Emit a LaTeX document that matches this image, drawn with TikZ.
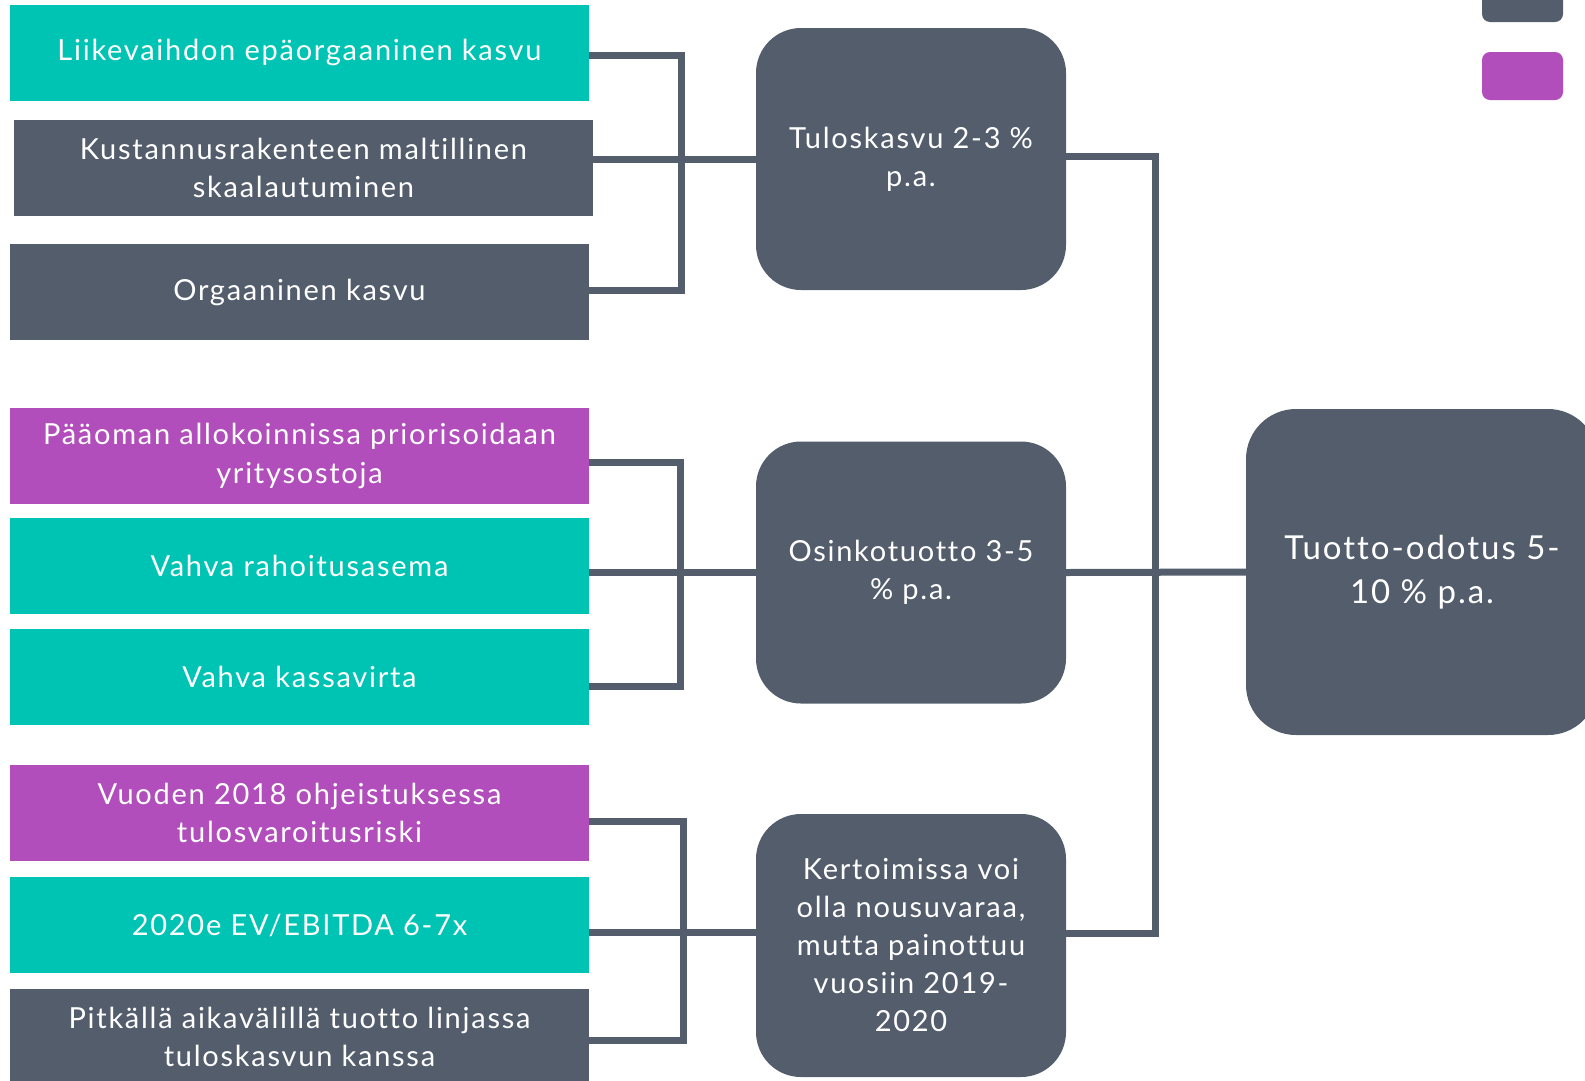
\documentclass[tikz,border=0pt]{standalone}
\usepackage{fontspec}
\setmainfont{Lato}[LetterSpace=6, Ligatures=NoCommon]
\usetikzlibrary{positioning}

\definecolor{tealBox}{HTML}{00C4B3}
\definecolor{slateBox}{HTML}{535D6C}
\definecolor{plumBox}{HTML}{B14EBB}

\begin{document}
\begin{tikzpicture}[x=1pt,y=-1pt]
		\useasboundingbox (0,0) rectangle (1585,1080);
		\clip (0,0) rectangle (1585,1080);
		\begin{scope}
            [
                styleDriver/.style={
					minimum width = 579pt, minimum height = 96pt,
					inner sep = 0pt, align = center, text = white,
					font = \fontsize{29}{38.5}\selectfont
					},
				styleTeal/.style={styleDriver, fill = tealBox},
				styleSlate/.style={styleDriver, fill = slateBox},
				stylePlum/.style={styleDriver, fill = plumBox},
				styleGoal/.style={
					minimum width = 310pt, minimum height = 262pt,
					inner sep = 0pt, align = center, text = white,
					fill = slateBox, rounded corners = 45pt,
					font = \fontsize{29}{38}\selectfont
					},
				styleTotal/.style={
					minimum width = 352pt, minimum height = 326pt,
					inner sep = 0pt, align = center, text = white,
					fill = slateBox, rounded corners = 50pt,
					font = \fontsize{33}{44.5}\selectfont
					},
				styleKey/.style={minimum width = 81pt, minimum height = 48pt,
					inner sep = 0pt, rounded corners = 8pt},
            ]
			% vasen sarake
			\node(liike)[styleTeal] at (299.5,52.75) {Liikevaihdon epäorgaaninen kasvu};
			\node(kust)[styleSlate] at (303.5,168) {Kustannusrakenteen maltillinen\\skaalautuminen};
			\node(org)[styleSlate] at (299.5,292) {Orgaaninen kasvu};

			\node(paaoma)[stylePlum] at (299.5,456) {Pääoman allokoinnissa priorisoidaan\\yritysostoja};
			\node(rahoitus)[styleTeal] at (299.5,566) {Vahva rahoitusasema};
			\node(kassa)[styleTeal] at (299.5,677) {Vahva kassavirta};

			\node(vuoden)[stylePlum] at (299.5,813) {Vuoden 2018 ohjeistuksessa\\tulosvaroitusriski};
			\node(ebitda)[styleTeal] at (299.5,925) {2020e EV/EBITDA 6-7x};
			\node(pitka)[styleSlate] at (299.5,1037) {Pitkällä aikavälillä tuotto linjassa\\tuloskasvun kanssa};

			% keskimmäinen sarake
			\node(tulos)[styleGoal] at (911,159) {Tuloskasvu 2-3 \%\\p.a.};
			\node(osinko)[styleGoal] at (911,572.5) {Osinkotuotto 3-5\\\% p.a.};
			\node(kert)[styleGoal, minimum height = 263pt] at (911,945.5)
				{Kertoimissa voi\\olla nousuvaraa,\\mutta painottuu\\vuosiin 2019-\\2020};

			\node(total)[styleTotal] at (1422,572) {Tuotto-odotus 5-\\10 \% p.a.};

			% selite
			\node(keySlate)[styleKey, fill = slateBox] at (1522.5,-2) {};
			\node(keyPlum)[styleKey, fill = plumBox] at (1522.5,76) {};
		\end{scope}
		\begin{scope}
            [link/.style={draw = slateBox, line width = 7pt}]
			\draw[link] ([yshift=-2.25pt]liike.east) -- ++(92,0) |- ([yshift=2pt]org.east);
			\draw[link] (kust.east |- tulos.west) -- (tulos.west);

			\draw[link] ([yshift=-6pt]paaoma.east) -- ++(91,0) |- ([yshift=-9pt]kassa.east);
			\draw[link] (rahoitus.east |- osinko.west) -- (osinko.west);

			\draw[link] ([yshift=-8pt]vuoden.east) -- ++(94,0) |- ([yshift=-3pt]pitka.east);
			\draw[link] ([yshift=-7pt]ebitda.east) -- ([yshift=13.5pt]kert.west);

			\draw[link] ([yshift=3pt]tulos.east) -- ++(89,0) |- ([yshift=12.5pt]kert.east);
			\draw[link] (osinko.east) -- (total.west);
		\end{scope}
    \end{tikzpicture}
\end{document}
